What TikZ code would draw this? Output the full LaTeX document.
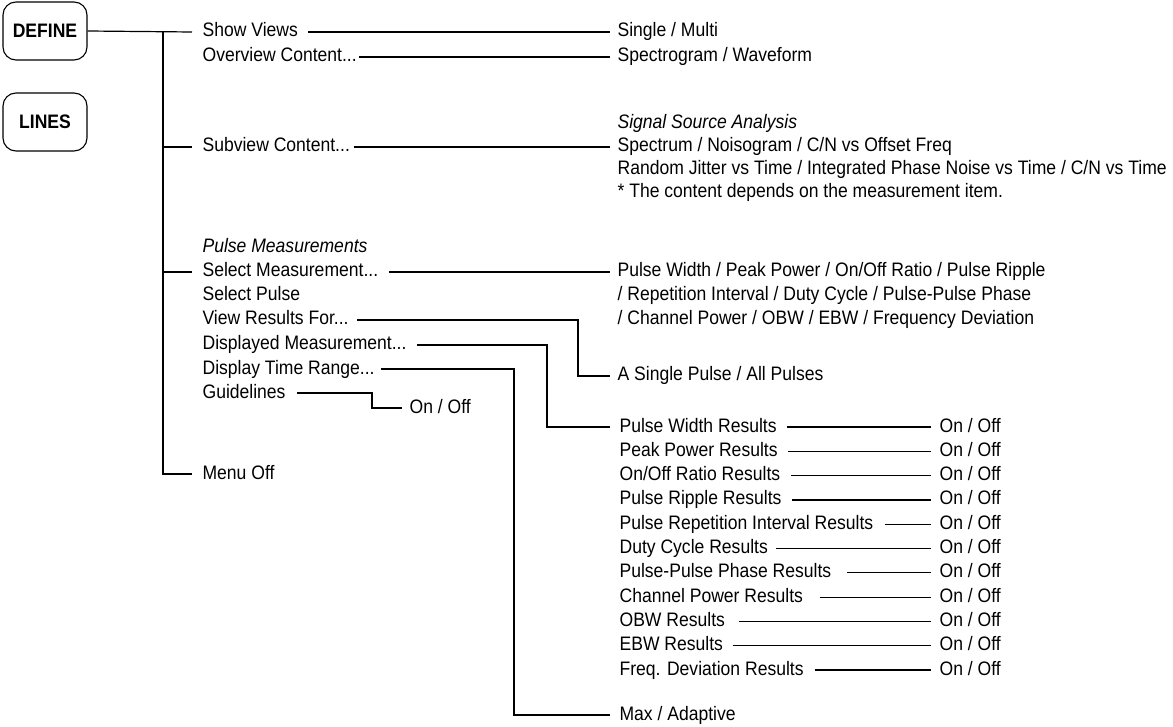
\documentclass[tikz,border=0pt]{standalone}
\usepackage{fontspec}
\setmainfont{Liberation Sans}[FakeStretch=0.9]
\usetikzlibrary{calc}
\begin{document}
\begin{tikzpicture}[x=1pt,y=-1pt,line width=1.2pt,
  lbl/.style={anchor=west,inner sep=0pt,text height=14pt,text depth=4pt,font=\fontsize{19.5}{23}\selectfont},
  ilbl/.style={lbl,font=\fontsize{19.5}{23}\selectfont\itshape},
  keybox/.style={draw,rounded corners=13pt,minimum width=84pt,minimum height=58pt,inner sep=0pt,font=\fontsize{19.5}{23}\selectfont\bfseries,line width=1.1pt}]
\useasboundingbox (0,0) rectangle (1173,727);
% keys
\node[keybox] (define) at (45,31) {DEFINE};
\node[keybox] (lines) at (45,122) {LINES};
\coordinate (trunk) at (163,0);
\coordinate (onX) at (939,0);
% first-level items
\node[lbl] (sv) at (202,32) {Show Views};
\node[lbl] (oc) at (202,57) {Overview Content...};
\node[lbl] (sc) at (202,147) {Subview Content...};
\node[ilbl] (pm) at (202,248) {Pulse Measurements};
\node[lbl] (sm) at (202,272) {Select Measurement...};
\node[lbl] (sp) at (202,296) {Select Pulse};
\node[lbl] (vr) at (202,320) {View Results For...};
\node[lbl] (dm) at (202,345) {Displayed Measurement...};
\node[lbl] (dt) at (202,369) {Display Time Range...};
\node[lbl] (gl) at (202,393) {Guidelines};
\node[lbl] (mo) at (202,474) {Menu Off};
% second-level
\node[lbl] (sgl) at (617,32) {Single / Multi};
\node[lbl] (spw) at (617,57) {Spectrogram / Waveform};
\node[ilbl] (ssa) at (617,124) {Signal Source Analysis};
\node[lbl] (spn) at (617,147) {Spectrum / Noisogram / C/N vs Offset Freq};
\node[lbl] (rj) at (617,170) {Random Jitter vs Time / Integrated Phase Noise vs Time / C/N vs Time};
\node[lbl] (note) at (617,193) {* The content depends on the measurement item.};
\node[lbl] (pw1) at (617,272) {Pulse Width / Peak Power / On/Off Ratio / Pulse Ripple};
\node[lbl] (pw2) at (617,296) {/ Repetition Interval / Duty Cycle / Pulse-Pulse Phase};
\node[lbl] (pw3) at (617,320) {/ Channel Power / OBW / EBW / Frequency Deviation};
\node[lbl] (asp) at (617,376) {A Single Pulse / All Pulses};
\node[lbl] (glo) at (409,408) {On / Off};
\node[lbl] (max) at (619,715) {Max / Adaptive};
% results
\node[lbl] (r0) at (619,427) {Pulse Width Results};
\node[lbl] (r1) at (619,451.3) {Peak Power Results};
\node[lbl] (r2) at (619,475.6) {On/Off Ratio Results};
\node[lbl] (r3) at (619,499.9) {Pulse Ripple Results};
\node[lbl] (r4) at (619,524.2) {Pulse Repetition Interval Results};
\node[lbl] (r5) at (619,548.5) {Duty Cycle Results};
\node[lbl] (r6) at (619,572.8) {Pulse-Pulse Phase Results};
\node[lbl] (r7) at (619,597.1) {Channel Power Results};
\node[lbl] (r8) at (619,621.4) {OBW Results};
\node[lbl] (r9) at (619,645.7) {EBW Results};
\node[lbl] (r10) at (619,670) {Freq. Deviation Results};
\foreach \i in {0,...,10} {
  \node[lbl] (o\i) at (onX |- r\i.west) {On / Off};
}
\foreach \i/\g in {0/10,1/10,2/10,3/10,4/11,5/8,6/15,7/16,8/13,9/9,10/11} {
  \draw ([xshift=\g pt]r\i.east) -- ([xshift=-8pt]o\i.west);
}
% trunk and branches
\draw (define.east) -- ([xshift=-10pt]sv.west);
\draw (define.east -| trunk) -- (mo.west -| trunk) -- ([xshift=-10pt]mo.west);
\draw (sc.west -| trunk) -- ([xshift=-10pt]sc.west);
\draw (sm.west -| trunk) -- ([xshift=-10pt]sm.west);
% level-1 to level-2
\draw ([xshift=10pt]sv.east) -- ([xshift=-7pt]sgl.west);
\draw ([xshift=2pt]oc.east) -- ([xshift=-7pt]spw.west);
\draw ([xshift=3pt]sc.east) -- ([xshift=-7pt]spn.west);
\draw ([xshift=10pt]sm.east) -- ([xshift=-7pt]pw1.west);
\coordinate (vrX) at (578,0);
\coordinate (dmX) at (547,0);
\coordinate (dtX) at (514,0);
\coordinate (glX) at (372,0);
\draw ([xshift=8pt]vr.east) -- (vr.east -| vrX) |- ([xshift=-7pt]asp.west);
\draw ([xshift=10pt]dm.east) -- (dm.east -| dmX) |- ([xshift=-9pt]r0.west);
\draw ([xshift=6pt]dt.east) -- (dt.east -| dtX) |- ([xshift=-9pt]max.west);
\draw ([xshift=11pt]gl.east) -- (gl.east -| glX) |- ([xshift=-7pt]glo.west);
\end{tikzpicture}
\end{document}
